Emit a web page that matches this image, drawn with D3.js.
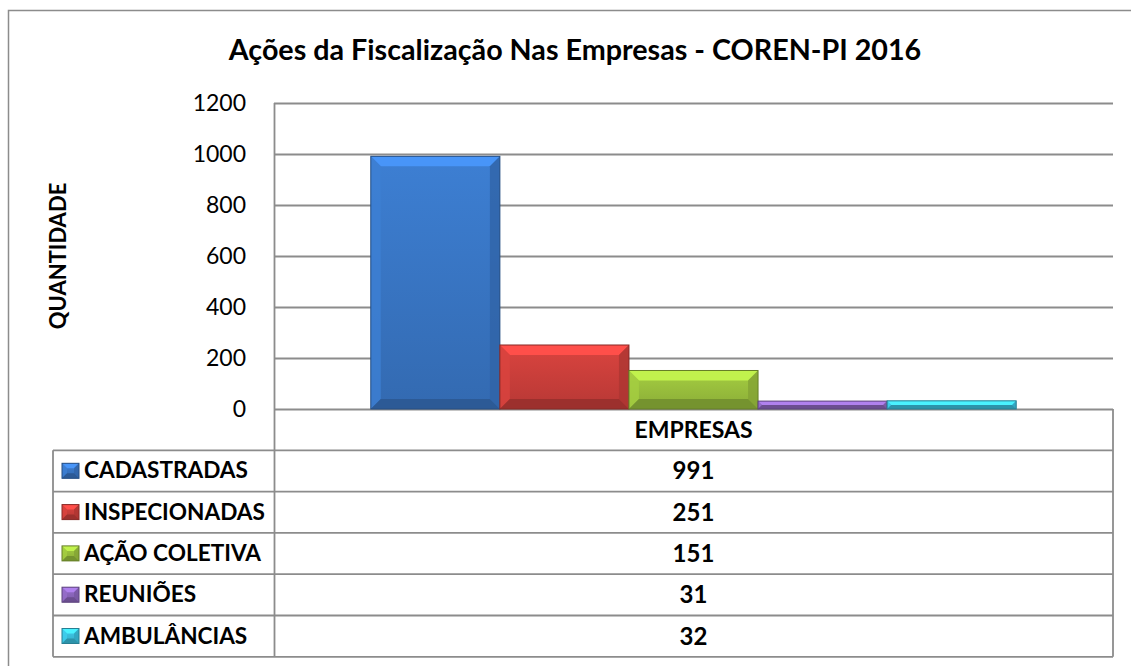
<!DOCTYPE html>
<html><head>
<meta charset="utf-8">
<title>Ações da Fiscalização - COREN-PI 2016</title>
<script src="https://d3js.org/d3.v7.min.js"></script>
<style>
  body { margin: 0; background: #fff; }
  text { font-family: Lato, "Open Sans", sans-serif; fill: #000; }
</style>
</head>
<body>
<svg id="chart" width="1131" height="666"></svg>
<script>
// data
const categories = ["CADASTRADAS", "INSPECIONADAS", "AÇÃO COLETIVA", "REUNIÕES", "AMBULÂNCIAS"];
const values = [991, 251, 151, 31, 32];
const colors = ["#3a78c8", "#cf403c", "#9cc33e", "#8e68c0", "#3cc3e2"];
const yTicks = [0, 200, 400, 600, 800, 1000, 1200];
const groupName = "EMPRESAS";

const svg = d3.select("#chart");

// outer frame
svg.append("rect")
  .attr("x", 8.5).attr("y", 10.5)
  .attr("width", 1140).attr("height", 680)
  .style("fill", "none").style("stroke", "#8c8c8c").style("stroke-width", 1.5);

// title
svg.append("text")
  .attr("x", 575).attr("y", 60)
  .attr("text-anchor", "middle")
  .style("font-size", "28.7px").style("font-weight", "bold")
  .text("Ações da Fiscalização Nas Empresas - COREN-PI 2016");

const plot = {left: 274, right: 1113, top: 103, bottom: 409};

let y = d3.scaleLinear().domain([0, 1200]).range([plot.bottom, plot.top]);

// outer band = the single group, inner band = the series
let xGroup = d3.scaleBand().domain([groupName]).range([plot.left, plot.right]).paddingOuter(0.15).paddingInner(0);
let xBar = d3.scaleBand().domain(categories).range([0, xGroup.bandwidth()]);

// gridlines
svg.append("g").selectAll("line")
  .data(yTicks)
  .join("line")
  .attr("x1", plot.left).attr("x2", plot.right)
  .attr("y1", d => y(d) + 0.5).attr("y2", d => y(d) + 0.5)
  .style("stroke", "#8c8c8c").style("stroke-width", 1.8);

// left axis line
svg.append("line")
  .attr("x1", plot.left + 0.5).attr("x2", plot.left + 0.5)
  .attr("y1", plot.top).attr("y2", plot.bottom)
  .style("stroke", "#8c8c8c").style("stroke-width", 1.8);

// tick labels
svg.append("g").selectAll("text")
  .data(yTicks)
  .join("text")
  .attr("x", 246).attr("y", d => y(d) + 8)
  .attr("text-anchor", "end")
  .style("font-size", "23px")
  .text(d => d);

// y axis title
svg.append("text")
  .attr("transform", "translate(66," + ((plot.top + plot.bottom) / 2) + ") rotate(-90)")
  .attr("text-anchor", "middle")
  .style("font-size", "22px").style("font-weight", "bold")
  .text("QUANTIDADE");

// gradients + bevel bars
let defs = svg.append("defs");
colors.forEach((c, i) => {
  let g = defs.append("linearGradient").attr("id", "grad" + i)
    .attr("x1", 0).attr("y1", 0).attr("x2", 0).attr("y2", 1);
  g.append("stop").attr("offset", "0%").attr("stop-color", d3.color(c).brighter(0.15));
  g.append("stop").attr("offset", "100%").attr("stop-color", d3.color(c).darker(0.35));
});

function bevelBar(sel, x, yTop, w, h, i, bev) {
  let c = colors[i];
  let b = Math.min(bev, h / 2, w / 2);
  let x2 = x + w, y2 = yTop + h;
  sel.append("rect").attr("x", x).attr("y", yTop).attr("width", w).attr("height", h)
    .style("fill", "url(#grad" + i + ")");
  // top facet
  sel.append("polygon")
    .attr("points", [[x, yTop], [x2, yTop], [x2 - b, yTop + b], [x + b, yTop + b]].join(" "))
    .style("fill", d3.color(c).brighter(0.6));
  // left facet
  sel.append("polygon")
    .attr("points", [[x, yTop], [x + b, yTop + b], [x + b, y2 - b], [x, y2]].join(" "))
    .style("fill", d3.color(c).brighter(0.15)).style("opacity", 0.8);
  // right facet
  sel.append("polygon")
    .attr("points", [[x2, yTop], [x2, y2], [x2 - b, y2 - b], [x2 - b, yTop + b]].join(" "))
    .style("fill", d3.color(c).darker(0.5)).style("opacity", 0.8);
  // bottom facet
  sel.append("polygon")
    .attr("points", [[x, y2], [x + b, y2 - b], [x2 - b, y2 - b], [x2, y2]].join(" "))
    .style("fill", d3.color(c).darker(0.8));
  sel.append("rect").attr("x", x).attr("y", yTop).attr("width", w).attr("height", h)
    .style("fill", "none").style("stroke", d3.color(c).darker(1.2)).style("stroke-width", 1);
}

let bars = svg.append("g");
values.forEach((v, i) => {
  let x0 = xGroup(groupName) + xBar(categories[i]);
  let g = bars.append("g");
  bevelBar(g, x0, y(v), xBar.bandwidth(), y(0) - y(v), i, 10);
});

// data table
const rowH = 41.3;
const tableLeft = 53;
const lineColor = "#8c8c8c";
let table = svg.append("g").style("stroke", lineColor).style("stroke-width", 1.8);

// header row (only the data column is boxed)
table.append("line").attr("x1", plot.right).attr("x2", plot.right)
  .attr("y1", plot.bottom).attr("y2", plot.bottom + rowH * 6);
table.append("line").attr("x1", plot.left + 0.5).attr("x2", plot.left + 0.5)
  .attr("y1", plot.bottom).attr("y2", plot.bottom + rowH * 6);
table.append("line").attr("x1", tableLeft).attr("x2", tableLeft)
  .attr("y1", plot.bottom + rowH).attr("y2", plot.bottom + rowH * 6);
for (let r = 1; r <= 6; r++) {
  table.append("line")
    .attr("x1", tableLeft).attr("x2", plot.right)
    .attr("y1", plot.bottom + rowH * r).attr("y2", plot.bottom + rowH * r);
}

svg.append("text")
  .attr("x", (plot.left + plot.right) / 2).attr("y", plot.bottom + 29)
  .attr("text-anchor", "middle")
  .style("font-size", "23px").style("font-weight", "bold")
  .text(groupName);

categories.forEach((c, i) => {
  let ry = plot.bottom + rowH * (i + 1);
  let kg = svg.append("g");
  bevelBar(kg, 62, ry + 13, 17, 15, i, 5);
  svg.append("text")
    .attr("x", 84).attr("y", ry + 28)
    .style("font-size", "22.6px").style("font-weight", "bold")
    .text(c);
  svg.append("text")
    .attr("x", (plot.left + plot.right) / 2).attr("y", ry + 29)
    .attr("text-anchor", "middle")
    .style("font-size", "24px").style("font-weight", "bold")
    .text(values[i]);
});
</script>
</body>
</html>
